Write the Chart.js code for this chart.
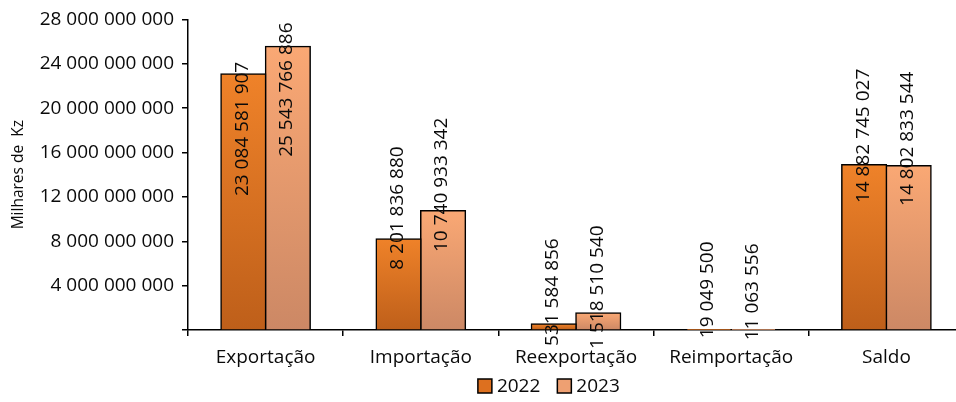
<!DOCTYPE html>
<html>
<head>
<meta charset="utf-8">
<script src="https://cdn.jsdelivr.net/npm/chart.js@4.4.1/dist/chart.umd.min.js"></script>
<style>
  html, body { margin: 0; padding: 0; overflow: hidden; background: #fff; }
  #wrap { width: 966px; height: 402px; }
</style>
</head>
<body>
<div id="wrap"><canvas id="c" width="966" height="402"></canvas></div>
<script>
const categories = ['Exportação', 'Importação', 'Reexportação', 'Reimportação', 'Saldo'];
const seriesNames = ['2022', '2023'];
const values2022 = [23084581907, 8201836880, 531584856, 19049500, 14882745027];
const values2023 = [25543766886, 10740933342, 1518510540, 11063556, 14802833544];
const yMax = 28000000000;
const yStep = 4000000000;
const yTitle = 'Milhares de  Kz';

// label centre offsets (px) from bar top, as placed in the reference
const labelOffsets = [
  [55, -31, -32, -40, -29],
  [43, -26, -26, -38, -27]
];
const gradStops = [
  ['#EF8229', '#BE5F1A'],
  ['#FAA874', '#CC8865']
];
const legendColors = ['#DD701F', '#EEA072'];

const FONT = '"Open Sans", "Noto Sans", sans-serif';
const TXT = '#0a0a0a';
const fmt = v => String(v).replace(/\B(?=(\d{3})+(?!\d))/g, ' ');

function barGradient(ctx, dsIndex) {
  const chart = ctx.chart;
  const area = chart.chartArea;
  if (!area || ctx.type !== 'data') return gradStops[dsIndex][0];
  const y = chart.scales.y;
  const top = y.getPixelForValue(ctx.raw);
  const bottom = y.getPixelForValue(0);
  const g = chart.ctx.createLinearGradient(0, Math.min(top, bottom - 1), 0, bottom);
  g.addColorStop(0, gradStops[dsIndex][0]);
  g.addColorStop(1, gradStops[dsIndex][1]);
  return g;
}

const labelPlugin = {
  id: 'valueLabels',
  afterDatasetsDraw(chart) {
    const ctx = chart.ctx;
    ctx.save();
    ctx.font = '19px ' + FONT;
    ctx.fillStyle = TXT;
    ctx.textAlign = 'center';
    ctx.textBaseline = 'middle';
    chart.data.datasets.forEach((ds, di) => {
      const meta = chart.getDatasetMeta(di);
      meta.data.forEach((bar, i) => {
        const cy = bar.y + labelOffsets[di][i];
        ctx.save();
        ctx.translate(bar.x - 1, cy);
        ctx.rotate(-Math.PI / 2);
        ctx.fillText(fmt(ds.data[i]), 0, 0);
        ctx.restore();
      });
    });
    ctx.restore();
  },
  afterDraw(chart) {
    const ctx = chart.ctx;
    const area = chart.chartArea;
    ctx.save();
    ctx.font = '19px ' + FONT;
    ctx.textBaseline = 'middle';
    ctx.textAlign = 'left';
    const box = 14, gap = 5, itemGap = 17;
    const widths = seriesNames.map(n => box + gap + ctx.measureText(n).width);
    const total = widths.reduce((a, b) => a + b, 0) + itemGap * (seriesNames.length - 1);
    const cx = area.left + (area.right - area.left) * 0.465;
    let x = cx - total / 2;
    const cy = 386;
    seriesNames.forEach((n, i) => {
      ctx.fillStyle = legendColors[i];
      ctx.fillRect(x, cy - box / 2, box, box);
      ctx.strokeStyle = '#000';
      ctx.lineWidth = 1.5;
      ctx.strokeRect(x, cy - box / 2, box, box);
      ctx.fillStyle = TXT;
      ctx.fillText(n, x + box + gap, cy + 1);
      x += widths[i] + itemGap;
    });
    ctx.restore();
  }
};

new Chart(document.getElementById('c'), {
  type: 'bar',
  data: {
    labels: categories,
    datasets: [
      { label: seriesNames[0], data: values2022, backgroundColor: c => barGradient(c, 0),
        borderColor: '#000', borderWidth: 1.5, borderSkipped: 'bottom', inflateAmount: 0.8 },
      { label: seriesNames[1], data: values2023, backgroundColor: c => barGradient(c, 1),
        borderColor: '#000', borderWidth: 1.5, borderSkipped: 'bottom', inflateAmount: 0.8 }
    ]
  },
  options: {
    responsive: false,
    animation: false,
    devicePixelRatio: 1,
    datasets: { bar: { categoryPercentage: 0.574, barPercentage: 1 } },
    layout: { padding: { top: 17, right: 2, left: 0, bottom: 0 } },
    plugins: { legend: { display: false }, tooltip: { enabled: false } },
    scales: {
      x: {
        grid: { drawOnChartArea: false, tickLength: 6, color: '#000', lineWidth: 1.5, offset: true },
        border: { color: '#000', width: 1.5 },
        ticks: { color: TXT, font: { family: FONT, size: 19 }, padding: 10, maxRotation: 0 },
        afterFit(s) { s.height = 72; }
      },
      y: {
        min: 0, max: yMax,
        grid: { drawOnChartArea: false, tickLength: 6, color: '#000', lineWidth: 1.5 },
        border: { color: '#000', width: 1.5 },
        ticks: { stepSize: yStep, color: TXT, font: { family: FONT, size: 19 }, padding: 8,
          callback: v => v === 0 ? '' : fmt(v) },
        title: { display: true, text: yTitle, color: TXT, font: { family: FONT, size: 15.5 },
          padding: { top: 9, bottom: 0 } },
        afterFit(s) { s.width = 188; }
      }
    }
  },
  plugins: [labelPlugin]
});
</script>
</body>
</html>
